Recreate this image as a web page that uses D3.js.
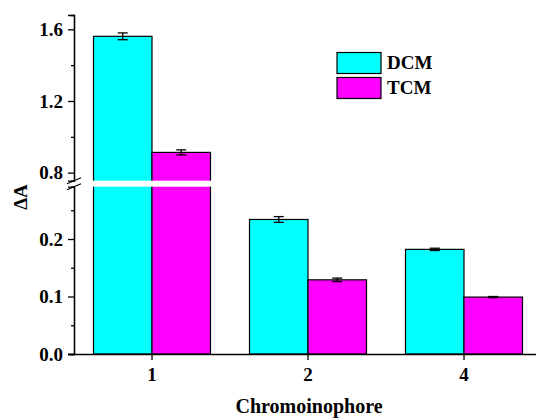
<!DOCTYPE html>
<html><head><meta charset="utf-8">
<script src="https://cdn.jsdelivr.net/npm/d3@7/dist/d3.min.js"></script>
<style>
body{margin:0;background:#fff;}
svg{display:block;}
svg text{font-family:"Liberation Serif","Times New Roman",serif !important;font-weight:bold;fill:#000;}
</style></head>
<body><svg id="c" width="536" height="420"></svg>
<script>
const categories = ["1","2","4"];
const seriesNames = ["DCM","TCM"];
const dcmValues = [1.561, 0.234, 0.182];
const dcmErrors = [0.019, 0.005, 0.002];
const tcmValues = [0.913, 0.129, 0.099];
const tcmErrors = [0.014, 0.003, 0.001];
const lowTicks = [0.0, 0.1, 0.2];
const lowMinor = [0.05, 0.15, 0.25];
const highTicks = [0.8, 1.2, 1.6];
const highMinor = [1.0, 1.4];
const colors = ["#00FFFF", "#FF00FF"];

const svg = d3.select("#c");
const axisX = 74, bottomY = 354;
const x0 = d3.scaleBand().domain(categories).range([axisX, 542]).paddingInner(0).paddingOuter(0);
const x1 = d3.scaleBand().domain(seriesNames).range([0, x0.bandwidth()]).paddingInner(0).paddingOuter(1/3);
const breakLow = 0.291, breakHigh = 0.755;
const yLow = d3.scaleLinear().domain([0, breakLow]).range([bottomY, 186.7]);
const yHigh = d3.scaleLinear().domain([breakHigh, 1.68]).range([180.7, 15]);
const yv = v => v > breakLow ? yHigh(v) : yLow(v);

const data = [];
categories.forEach((c, i) => {
  data.push({cat: c, s: "DCM", v: dcmValues[i], e: dcmErrors[i], col: colors[0]});
  data.push({cat: c, s: "TCM", v: tcmValues[i], e: tcmErrors[i], col: colors[1]});
});

// bars
svg.append("g").selectAll("rect").data(data).join("rect")
  .attr("x", d => x0(d.cat) + x1(d.s))
  .attr("y", d => yv(d.v))
  .attr("width", x1.bandwidth())
  .attr("height", d => yLow(0) - yv(d.v))
  .attr("fill", d => d.col)
  .attr("stroke", "#000").attr("stroke-width", 1.2);

// error bars
const eg = svg.append("g").attr("stroke", "#000").attr("stroke-width", 1.3);
data.forEach(d => {
  const cx = x0(d.cat) + x1(d.s) + x1.bandwidth() / 2;
  const t = yv(d.v + d.e), b = yv(d.v - d.e);
  eg.append("line").attr("x1", cx).attr("x2", cx).attr("y1", t).attr("y2", b);
  eg.append("line").attr("x1", cx - 5).attr("x2", cx + 5).attr("y1", t).attr("y2", t);
  eg.append("line").attr("x1", cx - 5).attr("x2", cx + 5).attr("y1", b).attr("y2", b);
});

// white break gap
svg.append("rect").attr("x", axisX + 1).attr("y", yHigh(breakHigh))
  .attr("width", 536 - axisX).attr("height", yLow(breakLow) - yHigh(breakHigh)).attr("fill", "#fff");

// left axes
const fs = "19px";
function styleAxis(g) {
  g.attr("font-family", null);
  g.selectAll("path,line").attr("stroke", "#000").attr("stroke-width", 1.3);
  g.selectAll("text").style("font-size", fs);
}
const gLow = svg.append("g").attr("transform", `translate(${axisX},0)`)
  .call(d3.axisLeft(yLow).tickValues(lowTicks).tickFormat(d3.format(".1f")).tickSizeOuter(0).tickSize(6).tickPadding(5));
const gLowMinor = svg.append("g").attr("transform", `translate(${axisX},0)`)
  .call(d3.axisLeft(yLow).tickValues(lowMinor).tickFormat("").tickSizeOuter(0).tickSize(3));
const gHigh = svg.append("g").attr("transform", `translate(${axisX},0)`)
  .call(d3.axisLeft(yHigh).tickValues(highTicks).tickFormat(d3.format(".1f")).tickSizeOuter(0).tickSize(6).tickPadding(5));
const gHighMinor = svg.append("g").attr("transform", `translate(${axisX},0)`)
  .call(d3.axisLeft(yHigh).tickValues(highMinor).tickFormat("").tickSizeOuter(0).tickSize(3));
[gLow, gHigh, gLowMinor, gHighMinor].forEach(styleAxis);

// break marks
const bm = svg.append("g").attr("stroke", "#000").attr("stroke-width", 1.2);
bm.append("line").attr("x1", 67).attr("y1", yHigh(breakHigh) + 3).attr("x2", 81).attr("y2", yHigh(breakHigh) - 3);
bm.append("line").attr("x1", 67).attr("y1", yLow(breakLow) + 3).attr("x2", 81).attr("y2", yLow(breakLow) - 3);

// bottom axis
const gx = svg.append("g").attr("transform", `translate(0,${bottomY})`)
  .call(d3.axisBottom(x0).tickSizeOuter(0).tickSize(6).tickPadding(8));
gx.select(".domain").attr("d", `M${axisX - 6},0.5H540`);
styleAxis(gx);

// axis titles
svg.append("text").attr("x", 309).attr("y", 413).attr("text-anchor", "middle")
  .style("font-size", "20px").text("Chromoinophore");
svg.append("text").attr("transform", "translate(27,197) rotate(-90)").attr("text-anchor", "middle")
  .style("font-size", "19px").text("ΔA");

// legend
const lg = svg.append("g");
seriesNames.forEach((s, i) => {
  lg.append("rect").attr("x", 337).attr("y", 52.5 + i * 25).attr("width", 44).attr("height", 21)
    .attr("fill", colors[i]).attr("stroke", "#000").attr("stroke-width", 1.2);
  lg.append("text").attr("x", 387).attr("y", 68.5 + i * 25).style("font-size", "19px").text(s);
});
</script></body></html>
